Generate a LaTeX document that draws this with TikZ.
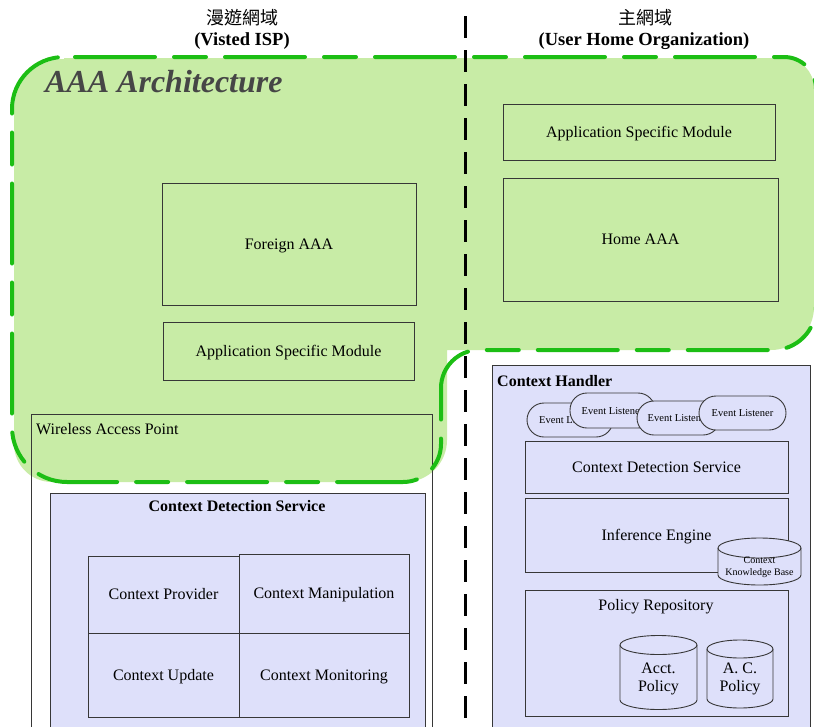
\documentclass[tikz,border=0pt]{standalone}
\usepackage{fontspec}
\setmainfont{Liberation Serif}
\newfontfamily\cjkfont{Noto Sans CJK TC}

\definecolor{aaafill}{RGB}{200,236,166}
\definecolor{aaaline}{RGB}{28,190,20}
\definecolor{lav}{RGB}{222,224,250}
\definecolor{boxline}{RGB}{55,55,55}
\definecolor{titlegray}{RGB}{70,70,70}

\tikzset{
  capmid/.style={text height=10.8pt, text depth=0pt},
  box/.style={draw=boxline, line width=1pt, inner sep=0pt, align=center, capmid,
              font=\fontsize{16}{19}\selectfont},
  lavbox/.style={box, fill=lav},
  listener/.style={draw=boxline, fill=lav, line width=0.9pt, rounded corners=17pt,
                   inner sep=0pt, text height=7pt, text depth=0pt,
                   font=\fontsize{10.5}{12}\selectfont},
  lbl/.style={inner sep=0pt, align=center, font=\fontsize{16}{19}\selectfont},
  boldlbl/.style={inner sep=0pt, capmid, font=\bfseries\fontsize{16}{19}\selectfont},
  headlbl/.style={inner sep=0pt, font=\bfseries\fontsize{18.5}{22}\selectfont},
  cjklbl/.style={inner sep=0pt, font=\cjkfont\fontsize{18}{22}\selectfont},
  cyl/.style={draw=boxline, fill=lav, line width=0.9pt},
  domainline/.style={line width=3pt, dash pattern=on 22pt off 12pt},
  aaaborder/.style={draw=aaaline, line width=4pt, line cap=round,
                    dash pattern=on 80pt off 19pt on 32pt off 19pt},
}

% database drum: left x, right x, x radius, top centre y, bottom centre y, y radius
\newcommand{\cylinderdrum}[6]{%
  \filldraw[cyl] (#1,#4) -- (#1,#5)
    arc[start angle=180,end angle=360,x radius=#3pt,y radius=#6pt] -- (#2,#4)
    arc[start angle=0,end angle=180,x radius=#3pt,y radius=#6pt] -- cycle;
  \draw[cyl, fill=none] (#1,#4)
    arc[start angle=180,end angle=360,x radius=#3pt,y radius=#6pt];
}

\begin{document}
\begin{tikzpicture}[x=1pt,y=-1pt]
\useasboundingbox (0,0) rectangle (814,726);
\clip (0,0) rectangle (814,726);
\fill[white] (0,0) rectangle (814,726);

% AAA architecture area
\fill[aaafill] (64,58) -- (784,58)
  arc[start angle=90,end angle=0,radius=30pt] -- (814,307)
  arc[start angle=0,end angle=-90,radius=43pt] -- (447,350) -- (447,440)
  arc[start angle=0,end angle=-90,radius=42pt] -- (52,482)
  arc[start angle=-90,end angle=-180,radius=38pt] -- (14,109)
  arc[start angle=180,end angle=90,radius=50pt] -- cycle;

% visited network side
\node[box, minimum width=254pt, minimum height=122pt] (foraaa) at (289,244) {Foreign AAA};
\node[box, minimum width=251pt, minimum height=58pt] (forasm) at (288.5,351) {Application Specific Module};
\node[box, anchor=north west, minimum width=401pt, minimum height=330pt] (wap) at (31,414) {};
\node[lbl, capmid, anchor=west] (waplbl) at (36,429) {Wireless Access Point};

\node[lavbox, anchor=north west, minimum width=375pt, minimum height=250pt] (lcds) at (50,493) {};
\node[boldlbl] (lcdstitle) at (237,506) {Context Detection Service};
\node[box, minimum width=151pt, minimum height=77pt] (cprov) at (163.5,594.5) {Context Provider};
\node[box, minimum width=170pt, minimum height=79pt] (cmanip) at (324,593.5) {Context Manipulation};
\node[box, minimum width=151pt, minimum height=84pt] (cupd) at (163.5,675) {Context Update};
\node[box, minimum width=170pt, minimum height=84pt] (cmon) at (324,675) {Context Monitoring};

% home network side
\node[box, minimum width=272pt, minimum height=56pt] (homeasm) at (639,132) {Application Specific Module};
\node[box, minimum width=275pt, minimum height=123pt] (homeaaa) at (640.5,239.5) {Home AAA};

\node[lavbox, anchor=north west, minimum width=318pt, minimum height=380pt] (ch) at (492,365) {};
\node[boldlbl, anchor=west] (chtitle) at (497,381) {Context Handler};

\node[listener, minimum width=86pt, minimum height=34pt] (el1) at (570,420) {Event Listener};
\node[listener, minimum width=85pt, minimum height=35pt] (el2) at (612.5,410.5) {Event Listener};
\node[listener, minimum width=83pt, minimum height=34pt] (el3) at (678.5,418) {Event Listener};
\node[listener, minimum width=87pt, minimum height=34pt] (el4) at (742.5,413) {Event Listener};

\node[lavbox, minimum width=263pt, minimum height=52pt] (rcds) at (656.5,467) {Context Detection Service};
\node[lavbox, minimum width=263pt, minimum height=74pt] (infeng) at (656.5,535) {Inference Engine};
\cylinderdrum{718}{801}{41.5}{548}{575}{10}
\node[inner sep=0pt, align=center, font=\fontsize{10}{12}\selectfont] (ckb) at (759.5,567) {Context\\Knowledge Base};

\node[lavbox, minimum width=263pt, minimum height=126pt] (polrep) at (656.5,653) {};
\node[lbl, capmid] (polreplbl) at (656,605) {Policy Repository};
\cylinderdrum{620}{697}{38.5}{645}{700}{9.5}
\node[lbl, font=\fontsize{16}{18}\selectfont] (acct) at (658.5,679) {Acct.\\Policy};
\cylinderdrum{707}{773}{33}{649}{699}{9}
\node[lbl, font=\fontsize{16}{18}\selectfont] (acpol) at (740,679) {A. C.\\Policy};

% dashed outline of the AAA area
\draw[aaaborder] (75,57) -- (784,57)
  arc[start angle=90,end angle=0,radius=32pt] -- (816,307)
  arc[start angle=0,end angle=-90,radius=43pt] -- (479,350)
  arc[start angle=90,end angle=180,radius=38pt] -- (441,444)
  arc[start angle=0,end angle=-90,radius=38pt] -- (67,482)
  arc[start angle=-90,end angle=-180,radius=55pt] -- (12,109)
  arc[start angle=180,end angle=90,radius=52pt] -- cycle;

\node[inner sep=0pt, anchor=west, text=titlegray,
      font=\bfseries\itshape\fontsize{32}{36}\selectfont] (aaatitle) at (45,82) {AAA Architecture};

% domain separator
\coordinate (divtop) at (465,16);
\coordinate (divbot) at (465,726);
\draw[domainline] (divtop) -- (divbot);

% domain headings
\node[cjklbl] (visitedzh) at (242,18) {漫遊網域};
\node[headlbl] (visiteden) at (242,41) {(Visted ISP)};
\node[cjklbl] (homezh) at (645,18) {主網域};
\node[headlbl] (homeen) at (644,41) {(User Home Organization)};
\end{tikzpicture}
\end{document}
